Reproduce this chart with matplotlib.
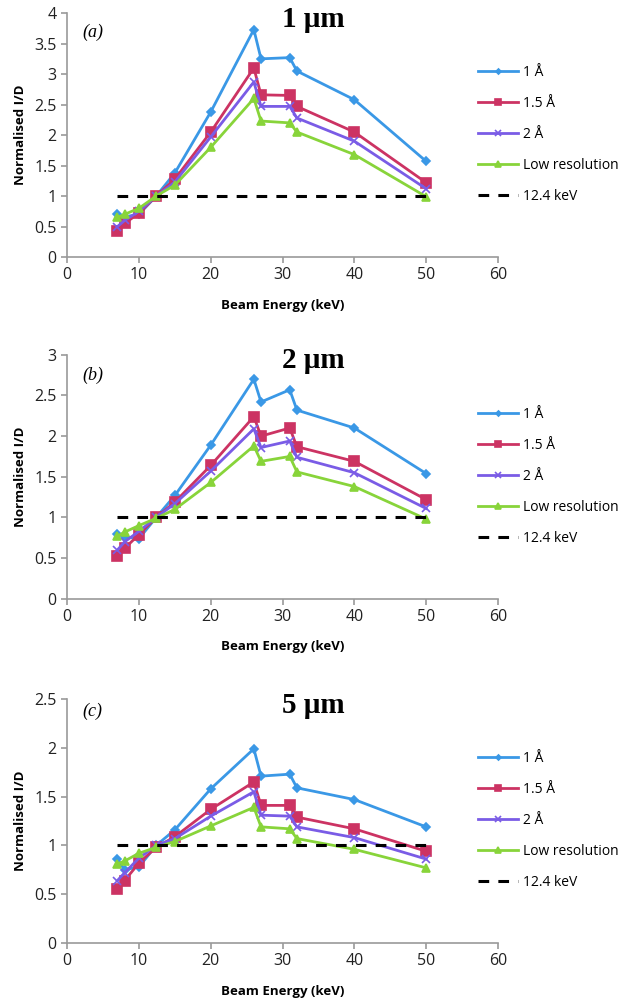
import matplotlib
matplotlib.use("Agg")
import matplotlib.pyplot as plt

energy = [7, 8, 10, 12.4, 15, 20, 26, 27, 31, 32, 40, 50]
series_names = ["1 Å", "1.5 Å", "2 Å", "Low resolution"]
ref_label = "12.4 keV"
ref_x = [7, 50]
ref_y = [1, 1]

a_1A = [0.70, 0.66, 0.70, 1.00, 1.38, 2.38, 3.73, 3.25, 3.27, 3.05, 2.58, 1.57]
a_15A = [0.43, 0.55, 0.72, 1.00, 1.28, 2.05, 3.10, 2.66, 2.65, 2.47, 2.05, 1.22]
a_2A = [0.50, 0.60, 0.75, 1.00, 1.23, 1.97, 2.87, 2.47, 2.47, 2.28, 1.90, 1.12]
a_low = [0.65, 0.70, 0.80, 1.00, 1.18, 1.80, 2.60, 2.23, 2.20, 2.05, 1.68, 0.99]

b_1A = [0.80, 0.76, 0.74, 1.00, 1.27, 1.89, 2.70, 2.42, 2.57, 2.32, 2.10, 1.54]
b_15A = [0.52, 0.62, 0.79, 1.00, 1.19, 1.64, 2.24, 2.00, 2.10, 1.87, 1.69, 1.22]
b_2A = [0.60, 0.70, 0.83, 1.00, 1.17, 1.57, 2.09, 1.86, 1.94, 1.74, 1.55, 1.11]
b_low = [0.77, 0.82, 0.90, 0.99, 1.10, 1.43, 1.88, 1.69, 1.75, 1.56, 1.38, 0.98]

c_1A = [0.86, 0.75, 0.78, 1.00, 1.16, 1.58, 1.99, 1.71, 1.73, 1.59, 1.47, 1.19]
c_15A = [0.55, 0.64, 0.82, 0.98, 1.09, 1.37, 1.65, 1.41, 1.41, 1.29, 1.17, 0.94]
c_2A = [0.64, 0.72, 0.87, 1.00, 1.07, 1.30, 1.55, 1.31, 1.30, 1.19, 1.08, 0.86]
c_low = [0.81, 0.84, 0.92, 0.98, 1.04, 1.20, 1.39, 1.19, 1.17, 1.07, 0.96, 0.77]

panels = [
    ("(a)", "1 μm", 4, [0, 0.5, 1, 1.5, 2, 2.5, 3, 3.5, 4], [a_1A, a_15A, a_2A, a_low], 0.92),
    ("(b)", "2 μm", 3, [0, 0.5, 1, 1.5, 2, 2.5, 3], [b_1A, b_15A, b_2A, b_low], 0.914),
    ("(c)", "5 μm", 2.5, [0, 0.5, 1, 1.5, 2, 2.5], [c_1A, c_15A, c_2A, c_low], 0.95),
]
xticks = [0, 10, 20, 30, 40, 50, 60]

colors = ["#3A98E6", "#CC3363", "#7A5CE6", "#88D43A"]
markers = ["D", "s", "x", "^"]
msizes = [4, 7, 6, 6]

sans = ["Open Sans", "DejaVu Sans"]
serif = ["Liberation Serif", "DejaVu Serif"]

fig = plt.figure(figsize=(6.4, 10.08), dpi=100)
bottoms = [0.745, 0.406, 0.0645]
gray = "#9A9A9A"

for (tag, title, ymax, yticks, data, tag_y), bot in zip(panels, bottoms):
    ax = fig.add_axes([0.105, bot, 0.673, 0.242])
    for vals, name, col, mk, ms in zip(data, series_names, colors, markers, msizes):
        ax.plot(energy, vals, color=col, marker=mk, markersize=ms, lw=2,
                markeredgewidth=1.2, label=name)
    ax.plot(ref_x, ref_y, color="black", lw=2.2, ls=(0, (3.5, 3)), label=ref_label)
    ax.set_xlim(0, 60)
    ax.set_ylim(0, ymax)
    ax.set_xticks(xticks)
    ax.set_yticks(yticks)
    ax.set_yticklabels([f"{t:g}" for t in yticks])
    for s in ["top", "right"]:
        ax.spines[s].set_visible(False)
    for s in ["left", "bottom"]:
        ax.spines[s].set_color(gray)
        ax.spines[s].set_linewidth(1.2)
    ax.tick_params(axis="both", colors=gray, labelcolor="#222222", labelsize=11.5, length=4, width=1.2)
    for lab in ax.get_xticklabels() + ax.get_yticklabels():
        lab.set_family(sans)
    ax.set_xlabel("Beam Energy (keV)", family=sans, fontweight="bold", fontsize=9.5, labelpad=11)
    ax.set_ylabel("Normalised I/D", family=sans, fontweight="bold", fontsize=9.5, labelpad=5)
    ax.text(0.571, 0.975, title, transform=ax.transAxes, family=serif, fontweight="bold",
            fontsize=21, ha="center", va="center")
    ax.text(0.035, tag_y, tag, transform=ax.transAxes, family=serif, style="italic",
            fontsize=13, ha="left", va="center")
    ax.legend(loc="upper left", bbox_to_anchor=(0.94, 0.81), frameon=False,
              prop={"family": sans, "size": 10}, labelspacing=1.15, markerscale=0.65,
              handlelength=2.9, handletextpad=0.4, borderaxespad=0)

fig.savefig("out.png", dpi=100)
